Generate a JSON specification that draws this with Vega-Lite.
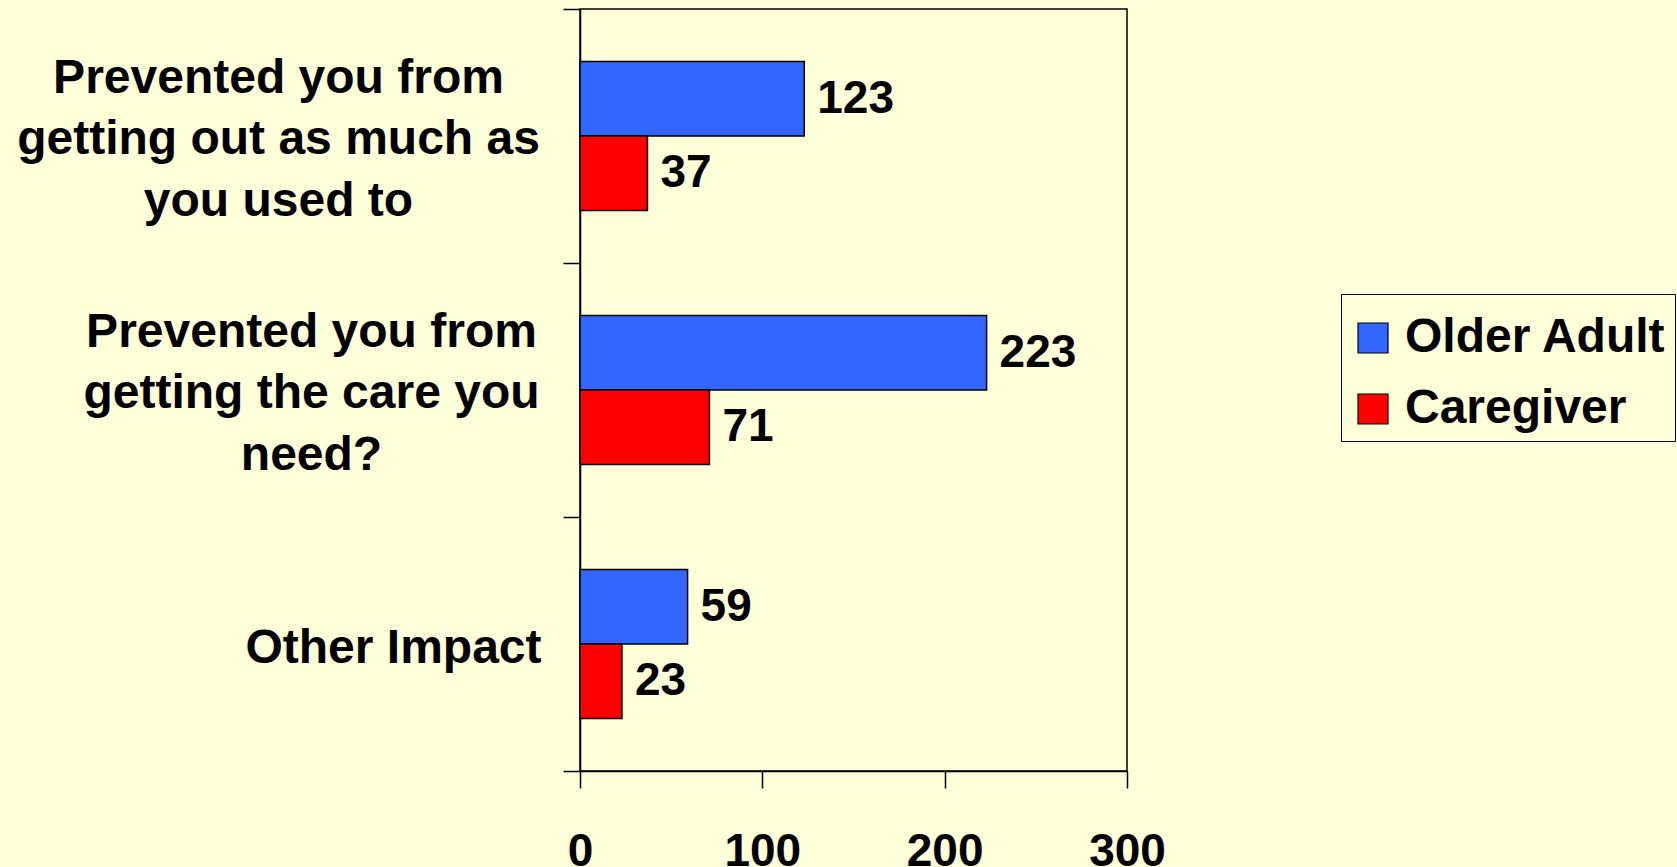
{
  "$schema": "https://vega.github.io/schema/vega-lite/v6.json",
  "width": 547,
  "height": 762,
  "autosize": {"type": "none"},
  "padding": {"left": 580, "top": 9, "right": 550, "bottom": 96},
  "background": "#FFFFDA",
  "config": {
    "view": {"stroke": "black", "strokeWidth": 1.5, "fill": "#FFFFDA"},
    "font": "Liberation Sans"
  },
  "data": {
    "values": [
      {"category": "Prevented you from|getting out as much as|you used to", "series": "Older Adult", "value": 123},
      {"category": "Prevented you from|getting out as much as|you used to", "series": "Caregiver", "value": 37},
      {"category": "Prevented you from|getting the care you|need?", "series": "Older Adult", "value": 223},
      {"category": "Prevented you from|getting the care you|need?", "series": "Caregiver", "value": 71},
      {"category": "Other Impact", "series": "Older Adult", "value": 59},
      {"category": "Other Impact", "series": "Caregiver", "value": 23}
    ]
  },
  "encoding": {
    "y": {
      "field": "category",
      "type": "nominal",
      "sort": null,
      "scale": {"paddingInner": 0, "paddingOuter": 0},
      "axis": {
        "title": null,
        "tickBand": "extent",
        "tickSize": 17,
        "tickWidth": 1.5,
        "tickColor": "black",
        "domainColor": "black",
        "domainWidth": 1.5,
        "labelExpr": "split(datum.label, '|')",
        "labelFontSize": 48,
        "labelFontWeight": "bold",
        "labelColor": "black",
        "labelLineHeight": 61.5,
        "labelLimit": 0,
        "labelAlign": "center",
        "labelBaseline": "middle",
        "labelPadding": 10,
        "encoding": {
          "labels": {
            "dx": {
              "condition": [
                {"test": "datum.value == 'Other Impact'", "value": -160},
                {"test": "datum.value == 'Prevented you from|getting the care you|need?'", "value": -242}
              ],
              "value": -275
            },
            "dy": {
              "condition": {"test": "datum.value == 'Other Impact'", "value": 4},
              "value": -58
            }
          }
        }
      }
    },
    "yOffset": {
      "field": "series",
      "type": "nominal",
      "scale": {"domain": ["Older Adult", "Caregiver"], "paddingInner": 0, "paddingOuter": 0.707}
    },
    "x": {
      "field": "value",
      "type": "quantitative",
      "scale": {"domain": [0, 300], "nice": false},
      "axis": {
        "title": null,
        "values": [0, 100, 200, 300],
        "grid": false,
        "tickSize": 17,
        "tickWidth": 1.5,
        "tickColor": "black",
        "domainColor": "black",
        "domainWidth": 1.5,
        "labelFontSize": 46,
        "labelFontWeight": "bold",
        "labelColor": "black",
        "labelPadding": 41,
        "labelFlush": false
      }
    }
  },
  "layer": [
    {
      "mark": {"type": "bar", "stroke": "black", "strokeWidth": 1.5},
      "encoding": {
        "color": {
          "field": "series",
          "type": "nominal",
          "scale": {"domain": ["Older Adult", "Caregiver"], "range": ["#3366FF", "#FF0000"]},
          "legend": {
            "title": " ",
            "titleFontSize": 8,
            "titlePadding": 4,
            "orient": "none",
            "legendX": 761,
            "legendY": 285,
            "strokeColor": "black",
            "fillColor": "#FFFFDA",
            "padding": 8,
            "symbolType": "square",
            "symbolSize": 900,
            "symbolStrokeColor": "black",
            "symbolStrokeWidth": 1.2,
            "symbolOpacity": 1,
            "labelFontSize": 48,
            "labelFontWeight": "bold",
            "labelColor": "black",
            "labelOffset": 8,
            "labelLimit": 0,
            "rowPadding": 23
          }
        }
      }
    },
    {
      "mark": {"type": "text", "align": "left", "baseline": "middle", "dx": 13, "fontSize": 46, "fontWeight": "bold", "color": "black"},
      "encoding": {
        "text": {"field": "value", "type": "quantitative"}
      }
    }
  ]
}
